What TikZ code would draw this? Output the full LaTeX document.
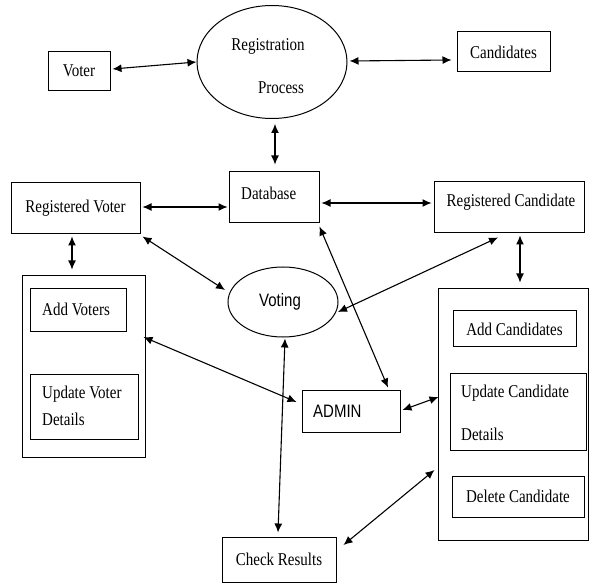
\documentclass[tikz,border=0pt]{standalone}
\usepackage{fontspec}
\usepackage{graphicx}
\setmainfont{Liberation Serif}
\newfontfamily\sansf{Liberation Sans}
\usetikzlibrary{shapes.geometric,arrows.meta,calc}
\newcommand\stt[1]{\scalebox{1}[1.2]{#1}}
\begin{document}
\begin{tikzpicture}[x=1pt,y=-1pt,
  box/.style={draw,line width=1pt,inner sep=0pt},
  oval/.style={draw,ellipse,line width=1pt,inner sep=0pt},
  txt/.style={font=\fontsize{15}{18}\selectfont,inner sep=0pt},
  stxt/.style={font=\sansf\fontsize{15}{18}\selectfont,inner sep=0pt},
  arr/.style={line width=1.1pt,{Latex[length=9pt,width=8pt]}-{Latex[length=9pt,width=8pt]}}]
\useasboundingbox (0,0) rectangle (590,583);
% nodes
\node[box,txt,minimum width=62,minimum height=39] (voter) at (79,71) {\stt{Voter}};
\node[oval,minimum width=150,minimum height=113] (reg) at (272,62) {};
\node[txt] (regt1) at (268,46) {\stt{Registration}};
\node[txt] (regt2) at (281,88) {\stt{Process}};
\node[box,txt,minimum width=93,minimum height=40] (cand) at (503.5,52) {\stt{Candidates}};
\node[box,minimum width=90,minimum height=51] (db) at (274,197.5) {};
\node[txt,anchor=west] (dbt) at (241,193) {\stt{Database}};
\node[box,txt,minimum width=129,minimum height=51] (rv) at (75.5,208.5) {\stt{Registered Voter}};
\node[box,minimum width=150,minimum height=51] (rc) at (509,207.5) {};
\node[txt] (rct) at (511,202) {\stt{Registered Candidate}};
\node[box,minimum width=123,minimum height=181] (lcont) at (83.5,366.5) {};
\node[box,minimum width=96,minimum height=43] (addv) at (78,310.5) {};
\node[txt,anchor=west] (addvt) at (42,309) {\stt{Add Voters}};
\node[box,minimum width=108,minimum height=65] (updv) at (84,406.5) {};
\node[txt,anchor=west] (updvt1) at (42,394) {\stt{Update Voter}};
\node[txt,anchor=west] (updvt2) at (42,419) {\stt{Details}};
\node[oval,minimum width=110,minimum height=70] (voting) at (283,302) {};
\node[stxt] (votingt) at (280,302) {\stt{Voting}};
\node[box,minimum width=98,minimum height=42] (admin) at (351,411) {};
\node[stxt,anchor=west] (admint) at (313,411) {\stt{ADMIN}};
\node[box,minimum width=150,minimum height=251] (rcont) at (513,414.5) {};
\node[box,txt,minimum width=123,minimum height=36] (addc) at (514.5,329) {\stt{Add Candidates}};
\node[box,minimum width=136,minimum height=77] (updc) at (518,411.5) {};
\node[txt,anchor=west] (updct1) at (461,393) {\stt{Update Candidate}};
\node[txt,anchor=west] (updct2) at (461,434) {\stt{Details}};
\node[box,txt,minimum width=132,minimum height=41] (delc) at (518,496.5) {\stt{Delete Candidate}};
\node[box,txt,minimum width=114,minimum height=45] (check) at (279,559.5) {\stt{Check Results}};
% connectors
\draw[arr] ($(voter.east)+(2,-2)$) -- (reg.west);
\draw[arr] ($(reg.east)+(2,-1)$) -- ($(cand.west)+(-5,8)$);
\draw[arr] ($(reg.south)+(3,5)$) -- ($(db.north)+(1,-7)$);
\draw[arr] ($(rv.east)+(2,-1.5)$) -- ($(db.west)+(-1,9.5)$);
\draw[arr] ($(db.east)+(2,5.5)$) -- ($(rc.west)+(-2,-4.5)$);
\draw[arr] ($(rv.south)+(-3.5,2)$) -- ($(lcont.north)+(-11.5,-6)$);
\draw[arr] ($(rv.south east)+(2,2)$) -- ($(voting.center)+(-58,-12)$);
\draw[arr] ($(rc.south)+(-11,4)$) -- ($(voting.center)+(55,10)$);
\draw[arr] ($(lcont.east)+(-2,-29.5)$) -- ($(admin.west)+(-5,-9)$);
\draw[arr] ($(db.south east)+(0,3)$) -- ($(admin.north)+(37,-2)$);
\draw[arr] ($(admin.east)+(2,-1)$) -- ($(rcont.west)+(1,-17.5)$);
\draw[arr] ($(rc.south)+(11,2)$) -- ($(rcont.north)+(7,-6)$);
\draw[arr] ($(voting.south)+(2,1)$) -- ($(check.north)+(-1,-4)$);
\draw[arr] ($(check.east)+(7,-14.5)$) -- ($(rcont.west)+(-3,55.5)$);
\end{tikzpicture}
\end{document}
